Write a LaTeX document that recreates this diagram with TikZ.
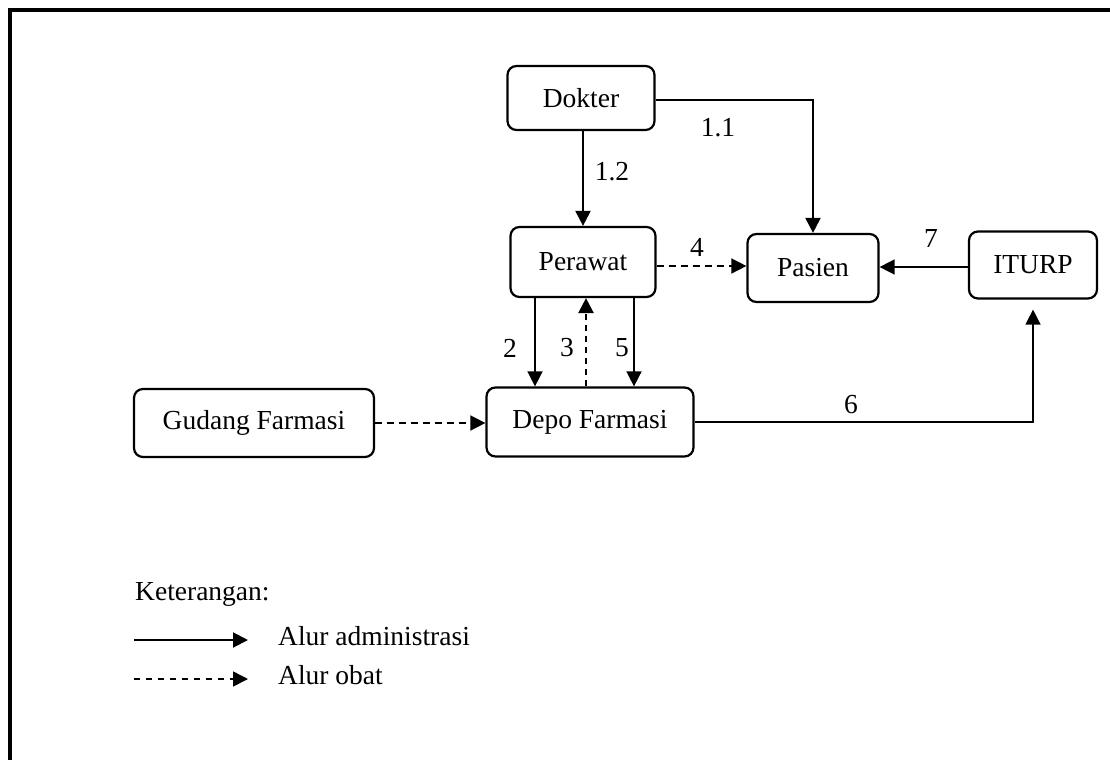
\documentclass[tikz,border=0pt]{standalone}
\usepackage{fontspec}
\setmainfont{Liberation Serif}
\usetikzlibrary{arrows.meta}
\begin{document}
\begin{tikzpicture}[x=1pt,y=-1pt,
  txt/.style={font=\fontsize{27.5}{33}\selectfont},
  box/.style={txt, draw, line width=2.2pt, rounded corners=9pt, inner sep=0pt},
  lbl/.style={txt, inner sep=0pt},
  admin/.style={line width=2pt, -{Triangle[length=15pt,width=15pt]}},
  thinadmin/.style={admin, line width=1.5pt},
  obat/.style={line width=1.5pt, dash pattern=on 7pt off 5pt, -{Triangle[length=15pt,width=15pt]}},
  obatthick/.style={obat, line width=2.4pt, dash pattern=on 6pt off 5pt}]
\useasboundingbox (0,0) rectangle (1110,760);
% frame (top and left edges)
\draw[line width=4pt] (8,10) -- (1110,10);
\draw[line width=4pt] (10,8) -- (10,760);

% actors
\node[box, minimum width=147pt, minimum height=64pt] (dok) at (581,98) {Dokter};
\node[box, minimum width=145pt, minimum height=70pt] (per) at (583,262) {Perawat};
\node[box, minimum width=131pt, minimum height=68pt] (pas) at (813,268) {Pasien};
\node[box, minimum width=128pt, minimum height=67pt] (itu) at (1033,265) {ITURP};
\node[box, minimum width=207pt, minimum height=69pt] (dep) at (590,422) {Depo Farmasi};
\node[box, minimum width=240pt, minimum height=68pt] (gud) at (254,423) {Gudang Farmasi};

% administrative flows
\draw[admin] (dok.east |- 0,100) -| (pas.north);
\draw[admin] (per.north |- dok.south) -- (per.north);
\draw[thinadmin] ([xshift=-48pt]per.south) -- ([xshift=-48pt]per.south |- dep.north);
\draw[thinadmin] ([xshift=51pt]per.south) -- ([xshift=51pt]per.south |- dep.north);
\draw[thinadmin] (dep.east) -| ([yshift=-10pt]itu.south);
\draw[thinadmin] (itu.west |- 0,267) -- (pas.east |- 0,267);

% drug flows
\draw[obat] ([yshift=-4pt]per.east) -- ([yshift=-4pt]per.east -| pas.west);
\draw[obatthick] ([xshift=3pt]per.south |- dep.north) -- ([xshift=3pt]per.south);
\draw[obat] (gud.east) -- (gud.east -| dep.west);

% flow numbers
\node[lbl] (l11) at (718,128) {1.1};
\node[lbl] (l12) at (612,172) {1.2};
\node[lbl] (l4) at (697,247) {4};
\node[lbl] (l2) at (510,348) {2};
\node[lbl] (l3) at (567,348) {3};
\node[lbl] (l5) at (622,348) {5};
\node[lbl] (l6) at (851,405) {6};
\node[lbl] (l7) at (931,238) {7};

% legend
\node[lbl, anchor=base west] (ket) at (135,600) {Keterangan:};
\coordinate (a1) at (134,640);
\coordinate (a2) at (248,640);
\draw[admin] (a1) -- (a2);
\node[lbl, anchor=base west] (ladm) at (278,645) {Alur administrasi};
\coordinate (b1) at (134,679);
\coordinate (b2) at (248,679);
\draw[obat, dash pattern=on 6pt off 6pt] (b1) -- (b2);
\node[lbl, anchor=base west] (lobt) at (278,684) {Alur obat};
\end{tikzpicture}
\end{document}
